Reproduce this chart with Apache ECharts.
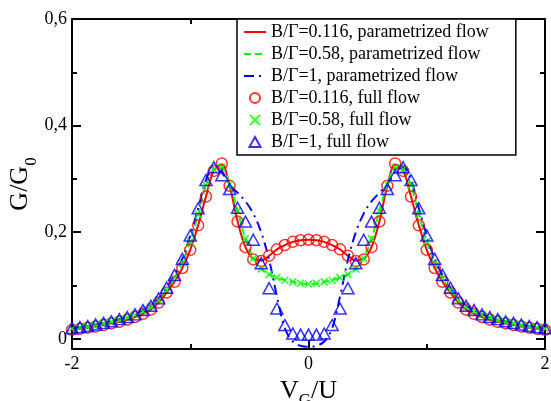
<!DOCTYPE html>
<html>
<head>
<meta charset="utf-8">
<script src="https://cdn.jsdelivr.net/npm/echarts@6/dist/echarts.min.js"></script>
<style>html,body{margin:0;padding:0;background:#fff;}#c{width:551px;height:401px;}</style>
</head>
<body>
<div id="c"></div>
<script>
// V_G/U grid
const vg = [-2,-1.933,-1.867,-1.8,-1.733,-1.667,-1.6,-1.533,-1.467,-1.4,-1.333,-1.267,-1.2,-1.133,-1.067,-1,-0.933,-0.867,-0.8,-0.733,-0.667,-0.6,-0.533,-0.467,-0.4,-0.333,-0.267,-0.2,-0.133,-0.067,0,
  0.067,0.133,0.2,0.267,0.333,0.4,0.467,0.533,0.6,0.667,0.733,0.8,0.867,0.933,1,1.067,1.133,1.2,1.267,1.333,1.4,1.467,1.533,1.6,1.667,1.733,1.8,1.867,1.933,2];

// parametrized flow (lines)
const redLine = [0.017,0.019,0.021,0.023,0.026,0.029,0.032,0.036,0.041,0.047,0.055,0.068,0.087,0.107,0.133,0.167,0.213,0.267,0.316,0.327,0.287,0.221,0.172,0.150,0.147,0.156,0.168,0.176,0.182,0.185,0.186,
  0.185,0.182,0.176,0.168,0.156,0.147,0.150,0.172,0.221,0.287,0.327,0.316,0.267,0.213,0.167,0.133,0.107,0.087,0.068,0.055,0.047,0.041,0.036,0.032,0.029,0.026,0.023,0.021,0.019,0.017];
const greenLine = [0.019,0.021,0.023,0.026,0.029,0.032,0.035,0.040,0.045,0.052,0.060,0.073,0.092,0.114,0.143,0.183,0.233,0.288,0.318,0.320,0.290,0.240,0.188,0.152,0.132,0.121,0.115,0.110,0.107,0.104,0.103,
  0.104,0.107,0.110,0.115,0.121,0.132,0.152,0.188,0.240,0.290,0.320,0.318,0.288,0.233,0.183,0.143,0.114,0.092,0.073,0.060,0.052,0.045,0.040,0.035,0.032,0.029,0.026,0.023,0.021,0.019];
const blueLine = [0.020,0.022,0.024,0.027,0.030,0.033,0.037,0.041,0.046,0.054,0.062,0.076,0.096,0.120,0.150,0.194,0.245,0.298,0.322,0.312,0.290,0.274,0.258,0.235,0.200,0.148,0.080,0.020,-0.005,-0.013,-0.015,
  -0.013,-0.005,0.020,0.080,0.148,0.200,0.235,0.258,0.274,0.290,0.312,0.322,0.298,0.245,0.194,0.150,0.120,0.096,0.076,0.062,0.054,0.046,0.041,0.037,0.033,0.030,0.027,0.024,0.022,0.020];

// full flow (symbols)
const redFull = [0.017,0.019,0.021,0.023,0.026,0.029,0.032,0.036,0.041,0.047,0.055,0.068,0.087,0.107,0.133,0.167,0.213,0.267,0.315,0.329,0.287,0.220,0.172,0.149,0.146,0.156,0.168,0.176,0.182,0.185,0.186,
  0.185,0.182,0.176,0.168,0.156,0.146,0.149,0.172,0.220,0.287,0.329,0.315,0.267,0.213,0.167,0.133,0.107,0.087,0.068,0.055,0.047,0.041,0.036,0.032,0.029,0.026,0.023,0.021,0.019,0.017];
const greenFull = [0.019,0.021,0.023,0.026,0.029,0.032,0.035,0.040,0.045,0.052,0.060,0.073,0.092,0.114,0.143,0.183,0.233,0.288,0.318,0.322,0.290,0.240,0.188,0.151,0.131,0.121,0.115,0.110,0.107,0.104,0.103,
  0.104,0.107,0.110,0.115,0.121,0.131,0.151,0.188,0.240,0.290,0.322,0.318,0.288,0.233,0.183,0.143,0.114,0.092,0.073,0.060,0.052,0.045,0.040,0.035,0.032,0.029,0.026,0.023,0.021,0.019];
const blueFull = [0.020,0.022,0.024,0.027,0.030,0.033,0.037,0.041,0.046,0.054,0.062,0.076,0.096,0.120,0.150,0.194,0.245,0.298,0.322,0.307,0.281,0.246,0.220,0.186,0.142,0.095,0.057,0.026,0.010,0.008,0.008,
  0.008,0.010,0.026,0.057,0.095,0.142,0.186,0.220,0.246,0.281,0.307,0.322,0.298,0.245,0.194,0.150,0.120,0.096,0.076,0.062,0.054,0.046,0.041,0.037,0.033,0.030,0.027,0.024,0.022,0.020];

const names = ['B/Γ=0.116, parametrized flow','B/Γ=0.58, parametrized flow','B/Γ=1, parametrized flow',
               'B/Γ=0.116, full flow','B/Γ=0.58, full flow','B/Γ=1, full flow'];
const yMajor = [0, 0.2, 0.4, 0.6];
const yMinor = [0.1, 0.3, 0.5];
const yLabels = ['0', '0,2', '0,4', '0,6'];

const FF = 'Liberation Serif';
const pair = (ys) => vg.map((x, i) => [x, ys[i]]);
const xMark = 'path://M0,0L10,10M10,0L0,10';
const triMark = 'path://M5,0L10,9L0,9Z';
const dashG = [7, 4];
const dashB = [10, 5, 2, 5];

const chart = echarts.init(document.getElementById('c'), null, {renderer: 'canvas'});
const yBase = {type: 'value', min: -0.019, max: 0.6, splitLine: {show: false}};
const hide = {color: 'rgba(0,0,0,0)', borderColor: 'rgba(0,0,0,0)', borderWidth: 0, opacity: 0};
const option = {
  animation: false,
  backgroundColor: '#fff',
  grid: {left: 72, right: 6, top: 19, bottom: 52, containLabel: false, outerBoundsMode: 'none'},
  legend: {
    orient: 'vertical', left: 237, top: 19,
    backgroundColor: '#fff', borderColor: '#000', borderWidth: 1.5,
    padding: [4, 27, 4, 6], itemWidth: 22, itemHeight: 10, itemGap: 4,
    textStyle: {fontFamily: FF, fontSize: 18, lineHeight: 18, color: '#000'},
    data: [
      {name: names[0], itemStyle: hide, lineStyle: {color: '#ff0000', width: 2}},
      {name: names[1], itemStyle: hide, lineStyle: {color: '#00ff00', width: 2, type: dashG}},
      {name: names[2], itemStyle: hide, lineStyle: {color: '#0000ff', width: 2, type: dashB}},
      {name: names[3]}, {name: names[4]}, {name: names[5], icon: triMark}
    ]
  },
  xAxis: [
    {type: 'value', min: -2, max: 2, interval: 2, position: 'bottom',
     axisLine: {onZero: false, lineStyle: {color: '#000', width: 2}},
     axisTick: {inside: true, length: 9, lineStyle: {width: 2}},
     minorTick: {show: true, splitNumber: 2, length: 5, lineStyle: {color: '#000', width: 2}},
     axisLabel: {fontFamily: FF, fontSize: 18, color: '#000', margin: 6},
     splitLine: {show: false},
     name: '{a|V}{b|G}{a|/U}', nameLocation: 'middle', nameGap: 16,
     nameTextStyle: {rich: {a: {fontFamily: FF, fontSize: 26, color: '#000'}, b: {fontFamily: FF, fontSize: 17, color: '#000', padding: [20, 0, 0, 0]}}}},
    {type: 'value', min: -2, max: 2, interval: 2, position: 'top',
     axisLine: {onZero: false, lineStyle: {color: '#000', width: 2}},
     axisTick: {inside: true, length: 9, lineStyle: {width: 2}},
     minorTick: {show: true, splitNumber: 2, length: 5, lineStyle: {color: '#000', width: 2}},
     axisLabel: {show: false}, splitLine: {show: false}}
  ],
  yAxis: [
    Object.assign({}, yBase, {position: 'left',
     axisLine: {onZero: false, lineStyle: {color: '#000', width: 2}},
     axisTick: {inside: true, length: 9, lineStyle: {width: 2}, customValues: yMajor},
     axisLabel: {fontFamily: FF, fontSize: 18, color: '#000', margin: 5, customValues: yMajor,
       formatter: (v) => yLabels[yMajor.findIndex(t => Math.abs(t - v) < 1e-6)]},
     name: '{a|G/G}{b|0}', nameLocation: 'middle', nameGap: 32, nameMoveOverlap: false,
     nameTextStyle: {rich: {a: {fontFamily: FF, fontSize: 26, color: '#000'}, b: {fontFamily: FF, fontSize: 17, color: '#000', padding: [22, 0, 0, 0]}}}}),
    Object.assign({}, yBase, {position: 'left',
     axisLine: {show: false, onZero: false},
     axisTick: {inside: true, length: 5, lineStyle: {width: 2, color: '#000'}, customValues: yMinor},
     axisLabel: {show: false}}),
    Object.assign({}, yBase, {position: 'right',
     axisLine: {onZero: false, lineStyle: {color: '#000', width: 2}},
     axisTick: {inside: true, length: 9, lineStyle: {width: 2}, customValues: yMajor},
     axisLabel: {show: false}}),
    Object.assign({}, yBase, {position: 'right',
     axisLine: {show: false, onZero: false},
     axisTick: {inside: true, length: 5, lineStyle: {width: 2, color: '#000'}, customValues: yMinor},
     axisLabel: {show: false}})
  ],
  series: [
    {name: names[0], type: 'line', data: pair(redLine), showSymbol: false, symbol: 'none', smooth: 0.35,
     lineStyle: {color: '#ff0000', width: 2}, itemStyle: {color: '#ff0000'}, z: 2},
    {name: names[1], type: 'line', data: pair(greenLine), showSymbol: false, symbol: 'none', smooth: 0.35,
     lineStyle: {color: '#00ff00', width: 2, type: dashG}, itemStyle: {color: '#00ff00'}, z: 2},
    {name: names[2], type: 'line', data: pair(blueLine), showSymbol: false, symbol: 'none', smooth: 0.35,
     lineStyle: {color: '#0000ff', width: 2, type: dashB}, itemStyle: {color: '#0000ff'}, z: 2},
    {name: names[3], type: 'scatter', data: pair(redFull), symbol: 'circle', symbolSize: 11,
     itemStyle: {color: 'rgba(255,255,255,0)', borderColor: '#ff0000', borderWidth: 1.5}, z: 3},
    {name: names[4], type: 'scatter', data: pair(greenFull), symbol: xMark, symbolSize: 7,
     itemStyle: {color: 'rgba(255,255,255,0)', borderColor: '#00ff00', borderWidth: 1.6}, z: 3},
    {name: names[5], type: 'scatter', data: pair(blueFull), symbol: triMark, symbolSize: [12, 11],
     itemStyle: {color: 'rgba(255,255,255,0)', borderColor: '#0000ff', borderWidth: 1.5}, z: 3}
  ]
};
chart.setOption(option);
</script>
</body>
</html>
